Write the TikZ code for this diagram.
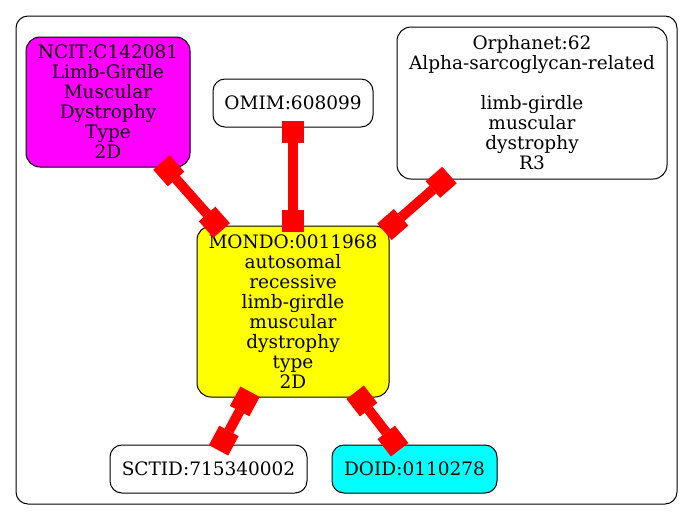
\documentclass[tikz,border=0pt]{standalone}
\usepackage{fontspec}
\setmainfont{DejaVu Serif}
\usetikzlibrary{arrows.meta}
\definecolor{gvmagenta}{RGB}{255,0,255}
\definecolor{gvyellow}{RGB}{255,255,0}
\definecolor{gvcyan}{RGB}{0,255,255}
\definecolor{gvred}{RGB}{255,0,0}
\begin{document}
\begin{tikzpicture}[x=1pt,y=-1pt,
  termbox/.style={draw=black,line width=1pt,rounded corners=14pt,align=center,
    inner sep=0pt,outer sep=0pt,
    font=\fontsize{18.5pt}{20pt}\selectfont},
  link/.style={draw=gvred,line width=10pt,
    {Square[length=22pt,width=22pt,line width=0pt]}-{Square[length=22pt,width=22pt,line width=0pt]},
    shorten <=-6pt,shorten >=-6pt}
]
\useasboundingbox (0,0) rectangle (693,520);
\draw[line width=1pt,rounded corners=12pt] (16,16) rectangle (677,504);
\node[termbox,fill=gvmagenta,minimum width=164pt,minimum height=130pt] (ncit) at (108,102)
  {NCIT:C142081\\Limb-Girdle\\Muscular\\Dystrophy\\Type\\2D};
\node[termbox,fill=white,minimum width=160pt,minimum height=48pt,rounded corners=12pt] (omim) at (293,103)
  {OMIM:608099};
\node[termbox,fill=white,minimum width=270pt,minimum height=152pt] (orpha) at (532,103)
  {Orphanet:62\\Alpha-sarcoglycan-related\\\mbox{}\\limb-girdle\\muscular\\dystrophy\\R3};
\node[termbox,fill=gvyellow,minimum width=192pt,minimum height=171pt] (mondo) at (293,311.5)
  {MONDO:0011968\\autosomal\\recessive\\limb-girdle\\muscular\\dystrophy\\type\\2D};
\node[termbox,fill=white,minimum width=197pt,minimum height=48pt,rounded corners=12pt] (sctid) at (208.5,469)
  {SCTID:715340002};
\node[termbox,fill=gvcyan,minimum width=165pt,minimum height=48pt,rounded corners=12pt] (doid) at (414.5,469)
  {DOID:0110278};
\draw[link] (ncit) -- (mondo);
\draw[link] (omim) -- (mondo);
\draw[link] (orpha) -- (mondo);
\draw[link] (mondo) -- (sctid);
\draw[link] (mondo) -- (doid);
\end{tikzpicture}
\end{document}
